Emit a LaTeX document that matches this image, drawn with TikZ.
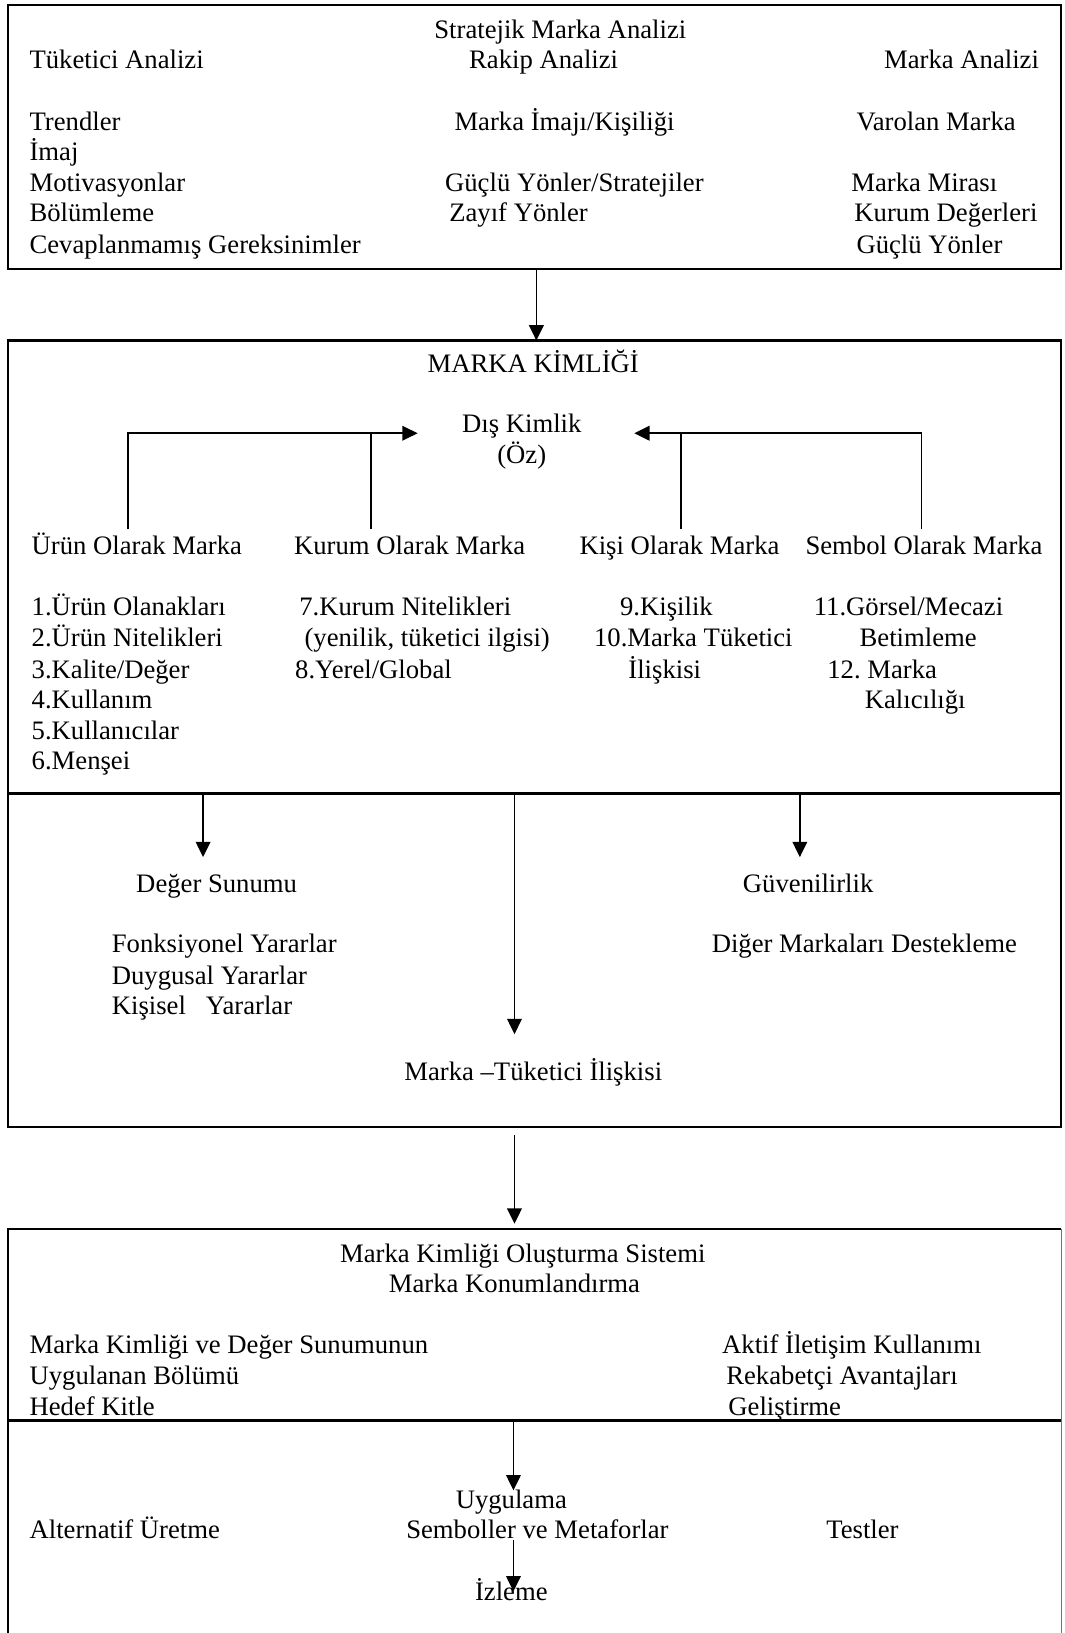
\documentclass[tikz,border=0pt]{standalone}
\usepackage{fontspec}
\setmainfont{Liberation Serif}
\usetikzlibrary{arrows.meta}

\begin{document}
\frenchspacing
\begin{tikzpicture}[x=0.4685pt,y=-0.4685pt,
  lbl/.style={inner sep=0pt,font=\fontsize{12}{14}\selectfont,text height=0.66em,text depth=0pt},
  lw/.style={lbl,anchor=west},
  le/.style={lbl,anchor=east},
  frame/.style={line width=1.05pt},
  thinframe/.style={line width=0.5pt,draw=black!55},
  link/.style={line width=0.7pt},
  arr/.style={line width=0.7pt,-{Triangle[length=6.9pt,width=6.6pt]}}]
\useasboundingbox (0,0) rectangle (1022,1568);

% ---------- Strategic brand analysis ----------
\draw[frame] (8,5) rectangle (1019,258);
\node[lbl] (sma) at (538,30) {Stratejik Marka Analizi};
\node[lw] (tuk) at (28,59) {Tüketici Analizi};
\node[lbl] (rak) at (522,59) {Rakip Analizi};
\node[le] (mar) at (998,59) {Marka Analizi};

\node[lw] (t1) at (28,118) {Trendler};
\node[lw] (t2) at (28,147) {İmaj};
\node[lw] (t3) at (28,177) {Motivasyonlar};
\node[lw] (t4) at (28,206) {Bölümleme};
\node[lw] (t5) at (28,236) {Cevaplanmamış Gereksinimler};

\node[lw] (r1) at (436,118) {Marka İmajı/Kişiliği};
\node[lw] (r2) at (427,177) {Güçlü Yönler/Stratejiler};
\node[lw] (r3) at (431,206) {Zayıf Yönler};

\node[lw] (m1) at (822,118) {Varolan Marka};
\node[lw] (m2) at (817,177) {Marka Mirası};
\node[lw] (m3) at (820,206) {Kurum Değerleri};
\node[lw] (m4) at (822,236) {Güçlü Yönler};

\coordinate (b1out) at (515,258);
\coordinate (b2in) at (515,327);
\draw[arr] (b1out) -- (b2in);

% ---------- Brand identity ----------
\draw[frame] (8,327) rectangle (1019,1082);
\draw[frame] (8,762) -- (1019,762);
\node[lbl] (mk) at (512,351) {MARKA KİMLİĞİ};
\node[lbl] (dis) at (501,408) {Dış Kimlik};
\node[lbl] (oz) at (501,438) {(Öz)};

\node[lw] (h1) at (30,525) {Ürün Olarak Marka};
\node[lw] (h2) at (282,525) {Kurum Olarak Marka};
\node[lw] (h3) at (556,525) {Kişi Olarak Marka};
\node[lw] (h4) at (773,525) {Sembol Olarak Marka};

\coordinate (jl) at (401,416);
\coordinate (jr) at (609,416);
\draw[arr] (123,508) |- (jl);
\draw[link] (356,508) -- (356,416);
\draw[arr] (885,508) |- (jr);
\draw[link] (654,508) -- (654,416);

\node[lw] (u1) at (30,584) {1.Ürün Olanakları};
\node[lw] (u2) at (30,614) {2.Ürün Nitelikleri};
\node[lw] (u3) at (30,644) {3.Kalite/Değer};
\node[lw] (u4) at (30,673) {4.Kullanım};
\node[lw] (u5) at (30,703) {5.Kullanıcılar};
\node[lw] (u6) at (30,732) {6.Menşei};

\node[lw] (k1) at (287,584) {7.Kurum Nitelikleri};
\node[lw] (k2) at (292,614) {(yenilik, tüketici ilgisi)};
\node[lw] (k3) at (283,644) {8.Yerel/Global};

\node[lw] (p1) at (595,584) {9.Kişilik};
\node[lw] (p2) at (570,614) {10.Marka Tüketici};
\node[lw] (p3) at (603,644) {İlişkisi};

\node[lw] (s1) at (781,584) {11.Görsel/Mecazi};
\node[lw] (s2) at (825,614) {Betimleme};
\node[lw] (s3) at (794,644) {12. Marka};
\node[lw] (s4) at (830,673) {Kalıcılığı};

\coordinate (dv1) at (195,762);
\coordinate (dv2) at (494,762);
\coordinate (dv3) at (768,762);
\coordinate (ta1) at (195,823);
\coordinate (ta2) at (494,993);
\coordinate (ta3) at (768,823);
\draw[arr] (dv1) -- (ta1);
\draw[arr] (dv2) -- (ta2);
\draw[arr] (dv3) -- (ta3);

\node[lbl] (ds) at (208,850) {Değer Sunumu};
\node[lbl] (gv) at (776,850) {Güvenilirlik};
\node[lw] (f1) at (107,908) {Fonksiyonel Yararlar};
\node[lw] (f2) at (107,938) {Duygusal Yararlar};
\node[lw] (f3) at (107,967) {Kişisel\ \ \ Yararlar};
\node[lw] (dm) at (683,908) {Diğer Markaları Destekleme};
\node[lbl] (mti) at (512,1030) {Marka –Tüketici İlişkisi};

\coordinate (b2out) at (494,1090);
\coordinate (b3in) at (494,1175);
\draw[arr] (b2out) -- (b3in);

% ---------- Brand identity implementation system ----------
\draw[frame] (8,1568) -- (8,1180) -- (1019,1180);
\draw[thinframe] (1019,1180) -- (1019,1568);
\draw[frame] (8,1364) -- (1019,1364);

\node[lbl] (sys) at (502,1205) {Marka Kimliği Oluşturma Sistemi};
\node[lbl] (kon) at (494,1234) {Marka Konumlandırma};

\node[lw] (a1) at (28,1293) {Marka Kimliği ve Değer Sunumunun};
\node[lw] (a2) at (28,1322) {Uygulanan Bölümü};
\node[lw] (a3) at (28,1352) {Hedef Kitle};

\node[lw] (c1) at (693,1293) {Aktif İletişim Kullanımı};
\node[lw] (c2) at (697,1322) {Rekabetçi Avantajları};
\node[lw] (c3) at (699,1352) {Geliştirme};

\coordinate (dv4) at (493,1364);
\coordinate (ta4) at (493,1431);
\draw[arr] (dv4) -- (ta4);

\node[lbl] (uyg) at (491,1441) {Uygulama};
\node[lw] (alt) at (28,1470) {Alternatif Üretme};
\node[lbl] (sem) at (516,1470) {Semboller ve Metaforlar};
\node[lw] (tst) at (793,1470) {Testler};

\coordinate (sb) at (493,1479);
\coordinate (ta5) at (493,1528);
\draw[arr] (sb) -- (ta5);
\node[lbl] (izl) at (491,1530) {İzleme};
\end{tikzpicture}
\end{document}
